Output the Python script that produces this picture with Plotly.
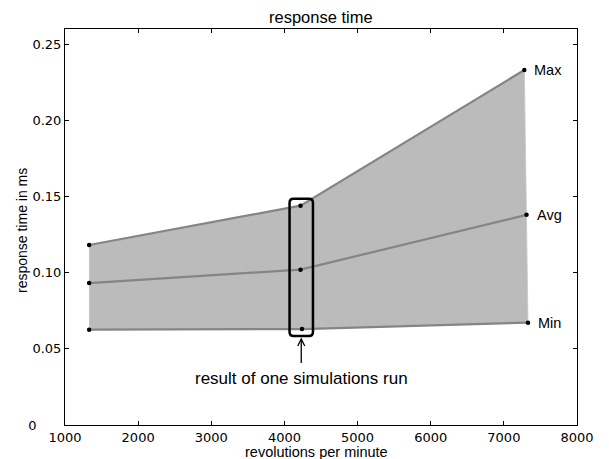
import plotly.graph_objects as go

# ---- data ----
rpm_max = [1330, 4220, 7280]
rpm_avg = [1330, 4220, 7310]
rpm_min = [1330, 4240, 7330]
t_max = [0.1182, 0.1440, 0.2331]
t_avg = [0.0932, 0.1020, 0.1380]
t_min = [0.0626, 0.0630, 0.0672]
series_names = ["Max", "Avg", "Min"]

x_ticks = [1000, 2000, 3000, 4000, 5000, 6000, 7000, 8000]
y_ticks = [0, 0.05, 0.10, 0.15, 0.20, 0.25]
y_ticktext = ["0" + "\u00a0" * 6, "0.05", "0.10", "0.15", "0.20", "0.25"]

TICK_FONT = dict(family="DejaVu Sans", size=13, color="black")
TEXT_FONT = "Liberation Sans, Arial, sans-serif"

# the page body has an 8px default margin, so the figure is sized to fit inside the window
W, H = 601, 451

fig = go.Figure()

# shaded band between Max and Min
fig.add_trace(go.Scatter(
    x=rpm_max + rpm_min[::-1], y=t_max + t_min[::-1],
    fill="toself", fillcolor="#bbbbbb", mode="lines",
    line=dict(width=0.8, color="#c8c8c8"), hoverinfo="skip", showlegend=False))

for xs, ys in [(rpm_max, t_max), (rpm_avg, t_avg), (rpm_min, t_min)]:
    fig.add_trace(go.Scatter(
        x=xs, y=ys, mode="lines+markers",
        line=dict(color="#858585", width=2.2),
        marker=dict(color="black", size=4.5),
        showlegend=False))

annotations = []
# series labels at the right ends
for name, xs, ys in [("Max", rpm_max, t_max), ("Avg", rpm_avg, t_avg), ("Min", rpm_min, t_min)]:
    annotations.append(dict(x=xs[-1], y=ys[-1], text=name, showarrow=False,
                            xanchor="left", yanchor="middle", xshift=8,
                            font=dict(family=TEXT_FONT, size=14.5, color="black")))

# annotation text under the highlighted run
mid_x = rpm_max[1]
annotations.append(dict(x=mid_x + 10, y=t_min[1], text="result of one simulations run",
                        showarrow=False, xanchor="center", yanchor="middle", yshift=-49,
                        font=dict(family=TEXT_FONT, size=17, color="black")))

# axis titles
annotations.append(dict(x=0.5, y=0, xref="paper", yref="paper", text="revolutions per minute",
                        showarrow=False, xanchor="center", yanchor="middle", yshift=-27, xshift=-5,
                        font=dict(family=TEXT_FONT, size=14.5, color="black")))
annotations.append(dict(x=0, y=0.5, xref="paper", yref="paper", text="response time in ms",
                        showarrow=False, xanchor="center", yanchor="middle", xshift=-43, yshift=-4,
                        textangle=-90,
                        font=dict(family=TEXT_FONT, size=14, color="black")))

# title as an annotation placed just inside the top edge
annotations.append(dict(x=0.5, y=1, xref="paper", yref="paper", text="response time",
                        showarrow=False, xanchor="center", yanchor="bottom", yshift=1,
                        font=dict(family=TEXT_FONT, size=16.5, color="black")))

# rounded box around the middle run (pixel-sized, anchored to data)
box_y = (t_max[1] + t_min[1]) / 2
hw, hh, r = 11.7, 68.7, 4
box_path = (f"M {-hw + r},{-hh} L {hw - r},{-hh} Q {hw},{-hh} {hw},{-hh + r} "
            f"L {hw},{hh - r} Q {hw},{hh} {hw - r},{hh} "
            f"L {-hw + r},{hh} Q {-hw},{hh} {-hw},{hh - r} "
            f"L {-hw},{-hh + r} Q {-hw},{-hh} {-hw + r},{-hh} Z")
shapes = [
    dict(type="path", xref="x", yref="y", xsizemode="pixel", ysizemode="pixel",
         xanchor=mid_x + 10, yanchor=box_y, path=box_path,
         line=dict(color="black", width=2.5)),
    # arrow shaft
    dict(type="path", xref="x", yref="y", xsizemode="pixel", ysizemode="pixel",
         xanchor=mid_x + 10, yanchor=t_min[1], path="M 0,-10 L 0,-34",
         line=dict(color="black", width=1.3)),
    # arrow head
    dict(type="path", xref="x", yref="y", xsizemode="pixel", ysizemode="pixel",
         xanchor=mid_x + 10, yanchor=t_min[1], path="M -3.5,-17 L 0,-10 L 3.5,-17",
         line=dict(color="black", width=1.3)),
]

fig.update_layout(
    width=W, height=H,
    margin=dict(l=57, r=32, t=21, b=34),
    paper_bgcolor="white", plot_bgcolor="white",
    annotations=annotations, shapes=shapes,
)
fig.update_xaxes(range=[1000, 8000], tickvals=x_ticks, ticks="inside", ticklen=4,
                 tickcolor="black", showline=True, linecolor="black", linewidth=1,
                 mirror="ticks", showgrid=False, zeroline=False, tickfont=TICK_FONT)
fig.update_yaxes(range=[0, 0.26], tickvals=y_ticks, ticktext=y_ticktext, ticks="inside",
                 ticklen=4, tickcolor="black", showline=True, linecolor="black", linewidth=1,
                 mirror="ticks", showgrid=False, zeroline=False, tickfont=TICK_FONT)

fig.write_html("out.html")
